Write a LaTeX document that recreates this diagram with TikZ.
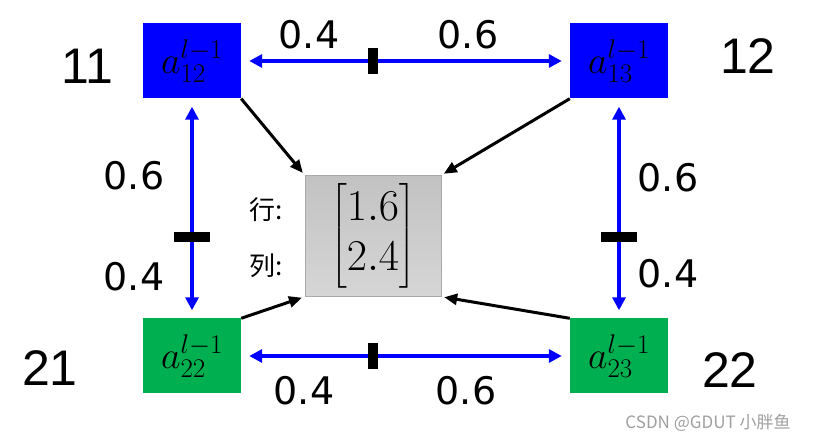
\RequirePackage{fix-cm}
\documentclass[tikz,border=0pt]{standalone}
\usepackage{amsmath}
\usepackage[no-math]{fontspec}
\newfontfamily\labelFont{DejaVu Sans}
\newfontfamily\handFont{Liberation Sans}
\newfontfamily\cjkFont{Noto Sans CJK SC}
\usetikzlibrary{arrows.meta}
\usetikzlibrary{positioning}
\definecolor{nodeBlue}{RGB}{0,0,255}
\definecolor{nodeGreen}{RGB}{0,176,80}
\DeclareMathSizes{38}{38}{27}{20}
\DeclareMathSizes{44}{44}{30}{22}
\newcommand{\tikzWeight}[3]{\node[weight] (#1) at #2 {#3}}

\begin{document}
\begin{tikzpicture}[x=1pt,y=-1pt,
    cell/.style={minimum width=98pt,minimum height=75pt,inner sep=0pt,
      font=\fontsize{38}{44}\selectfont},
    centerBox/.style={minimum width=136pt,minimum height=121pt,inner sep=0pt,
      draw={rgb,255:red,170;green,170;blue,170},
      top color={rgb,255:red,194;green,194;blue,194},
      bottom color={rgb,255:red,214;green,214;blue,214},
      font=\fontsize{44}{50}\selectfont},
    weight/.style={font=\labelFont\fontsize{38}{44}\selectfont},
    hand/.style={font=\handFont\fontsize{50}{56}\selectfont},
    rowTag/.style={font=\cjkFont\fontsize{26}{30}\selectfont},
    blueArrow/.style={draw=nodeBlue,line width=3.5pt,
      {Triangle[length=13pt,width=13pt]}-{Triangle[length=13pt,width=13pt]},
      shorten >=8pt,shorten <=8pt},
    feedArrow/.style={line width=3pt,-{Triangle[length=13pt,width=11pt]},shorten >=3pt},
    barV/.style={fill=black,minimum width=10pt,minimum height=26pt,inner sep=0pt},
    barH/.style={fill=black,minimum width=36pt,minimum height=10pt,inner sep=0pt}]
  \useasboundingbox (0,0) rectangle (831,443);

  % the four neighbours and the merged value
  \node[cell,fill=nodeBlue] (a12) at (192,61) {$a_{12}^{l-1}$};
  \node[cell,fill=nodeBlue] (a13) at (619,61) {$a_{13}^{l-1}$};
  \node[cell,fill=nodeGreen] (a22) at (192,356) {$a_{22}^{l-1}$};
  \node[cell,fill=nodeGreen] (a23) at (619,356) {$a_{23}^{l-1}$};
  \node[centerBox] (mat) at (373,236) {$\begin{bmatrix}1.6\\2.4\end{bmatrix}$};
  \node[rowTag] (row) at (266,210) {行:};
  \node[rowTag] (col) at (266,266) {列:};

  % weights between the neighbours
  \draw[blueArrow] (a12) -- node[barV,pos=0.4] (m1) {} (a13);
  \draw[blueArrow] (a22) -- node[barV,pos=0.4] (m2) {} (a23);
  \draw[blueArrow] (a12) -- node[barH,pos=0.63] (m3) {} (a22);
  \draw[blueArrow] (a13) -- node[barH,pos=0.63] (m4) {} (a23);
  \tikzWeight{w1}{(309,35)}{0.4};
  \tikzWeight{w2}{(468,35)}{0.6};
  \tikzWeight{w3}{(304,391)}{0.4};
  \tikzWeight{w4}{(466,391)}{0.6};
  \tikzWeight{w5}{(134,176)}{0.6};
  \tikzWeight{w6}{(134,277)}{0.4};
  \tikzWeight{w7}{(668,178)}{0.6};
  \tikzWeight{w8}{(668,274)}{0.4};

  \draw[feedArrow] (a12.south east) -- (mat.north west);
  \draw[feedArrow] (a13.south west) -- (mat.north east);
  \draw[feedArrow] (a22.north east) -- (mat.south west);
  \draw[feedArrow] (a23.north west) -- (mat.south east);

  % hand written positions
  \node[hand] (h11) at (87,66) {11};
  \node[hand] (h12) at (748,56) {12};
  \node[hand] (h21) at (50,368) {21};
  \node[hand] (h22) at (730,370) {22};

  \node[font=\cjkFont\fontsize{17}{20}\selectfont,text=gray!75] (wm) at (708,423) {CSDN @GDUT 小胖鱼};
\end{tikzpicture}
\end{document}
